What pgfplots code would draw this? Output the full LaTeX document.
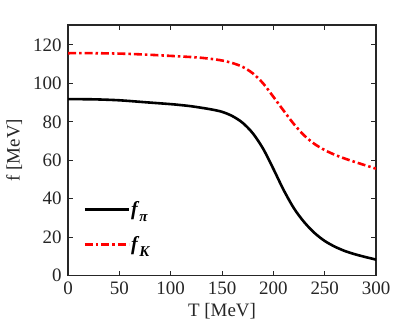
\documentclass[border=0pt]{standalone}
\usepackage{pgfplots}
\pgfplotsset{compat=1.18}
\usepackage{fontspec}
\setmainfont{Liberation Serif}
\definecolor{txt}{gray}{0.15}
\newcommand{\lsub}[1]{\raisebox{-6pt}{\fontsize{15}{15}\selectfont\textbf{\textit{#1}}}}
\begin{document}
\fontsize{19}{22}\selectfont
\begin{tikzpicture}
\begin{axis}[
  scale only axis,
  width=308.5pt, height=251pt,
  xmin=0, xmax=300, ymin=0, ymax=130.4,
  xtick={0,50,...,300}, ytick={0,20,...,120},
  tick align=inside, tick pos=both,
  major tick length=5pt,
  axis line style={line width=1.4pt, color=txt},
  every tick/.style={line width=1.1pt, color=txt},
  tick label style={font=\fontsize{19}{22}\selectfont, color=txt},
  label style={font=\fontsize{19}{22}\selectfont, color=txt},
  /pgf/number format/assume math mode=true,
  xlabel={T [MeV]}, ylabel={f [MeV]},
  xlabel style={yshift=4pt},
  ylabel style={yshift=-2pt},
  legend style={draw=none, fill=none, at={(0.05,0.085)}, anchor=south west,
    font=\fontsize{20}{22}\selectfont, row sep=16pt, legend cell align=left,
    inner sep=0pt, nodes={inner sep=1pt}},
  legend image code/.code={\draw[#1] (0pt,0pt) -- (44pt,0pt);},
]
\addplot[black, line width=2.6pt, smooth] coordinates {
(0,91.8) (25,91.7) (50,91.2) (75,90.2) (100,89.2) (110,88.7) (120,88.1) (130,87.3) (140,86.4) (150,85.2) (160,83.0) (170,79.5) (180,74.0) (190,66.0) (200,55.5) (210,44.5) (220,35.0) (230,27.8) (240,22.2) (250,18.0) (260,15.0) (270,12.7) (280,11.0) (290,9.6) (300,8.3)};
\addlegendentry{\textbf{\textit{f}}\lsub{π}}
\addplot[red, line width=2.6pt, dash pattern=on 8pt off 3pt on 2.5pt off 3pt, smooth] coordinates {
(0,115.7) (25,115.7) (50,115.5) (75,115) (100,114.3) (110,114.0) (120,113.7) (130,113.3) (140,112.7) (150,111.9) (160,110.6) (170,108.6) (180,105.2) (190,100.0) (200,93.0) (210,85.8) (220,78.8) (230,72.9) (240,68.5) (250,65.3) (260,62.8) (270,60.8) (280,59.0) (290,57.3) (300,55.6)};
\addlegendentry{\textbf{\textit{f}}\lsub{K}}
\end{axis}
\path (current axis.south west) ++(-67.5pt,-57pt) coordinate (bl);
\path (current axis.north east) ++(39pt,25pt) coordinate (tr);
\path (bl) rectangle (tr);
\end{tikzpicture}
\end{document}
